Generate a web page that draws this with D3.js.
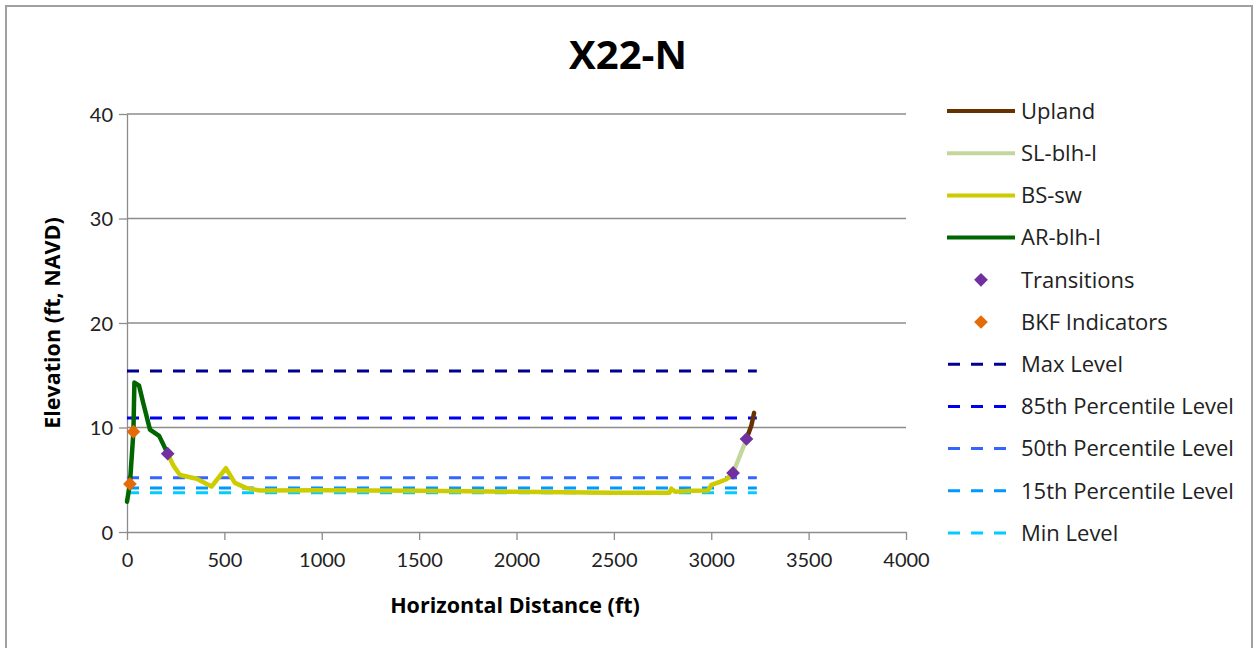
<!DOCTYPE html>
<html><head><meta charset="utf-8">
<script src="https://cdn.jsdelivr.net/npm/d3@7"></script>
<style>body{margin:0;background:#fff}svg{display:block}text{font-family:"Open Sans",sans-serif}</style>
</head><body><svg id="c" width="1254" height="648"></svg>
<script>
// Data
const arBlhL = [[0,2.9],[15,4.6],[33,9.6],[38,14.3],[62,14.0],[84,12.3],[118,9.8],[165,9.2],[209,7.5]];
const bsSw = [[209,7.5],[240,6.3],[272,5.45],[358,5.1],[434,4.35],[508,6.1],[554,4.7],[614,4.2],[683,3.97],[1000,4.0],[1500,3.95],[1750,3.9],[2000,3.85],[2500,3.75],[2785,3.75],[2795,4.15],[2815,3.85],[2900,3.95],[2983,3.97],[3001,4.5],[3044,4.8],[3079,5.05],[3112,5.65]];
const slBlhL = [[3112,5.65],[3181,8.9]];
const upland = [[3181,8.9],[3206,10.2],[3220,11.4]];
const transitions = [[209,7.5],[3112,5.65],[3181,8.9]];
const bkfIndicators = [[15,4.6],[33,9.6]];
const levelNames = ["Max Level","85th Percentile Level","50th Percentile Level","15th Percentile Level","Min Level"];
const levelValues = [15.4,10.9,5.2,4.2,3.75];
const levelRange = [0,3234];
const xTicks = [0,500,1000,1500,2000,2500,3000,3500,4000];
const yTicks = [0,10,20,30,40];

const svg = d3.select("#c");
// Outer frame
svg.append("rect").attr("x",6).attr("y",6).attr("width",1246).attr("height",700)
  .attr("fill","#fff").attr("stroke","#a0a0a0").attr("stroke-width",2);

const x = d3.scaleLinear().domain([0,4000]).range([127,906]);
const y = d3.scaleLinear().domain([0,40]).range([532,114]);

// gridlines
svg.append("g").selectAll("line").data(yTicks.filter(d=>d>0)).join("line")
  .attr("x1",x(0)).attr("x2",x(4000)).attr("y1",d=>y(d)).attr("y2",d=>y(d))
  .attr("stroke","#8c8c8c").attr("stroke-width",1.3);

// axes
const xa = svg.append("g").attr("transform",`translate(0,${y(0)})`)
  .call(d3.axisBottom(x).tickValues(xTicks).tickSize(8).tickSizeOuter(0).tickFormat(d3.format("d")));
const ya = svg.append("g").attr("transform",`translate(${x(0)},0)`)
  .call(d3.axisLeft(y).tickValues(yTicks).tickSize(8).tickSizeOuter(0));
[xa,ya].forEach(a=>{
  a.select(".domain").attr("stroke","#8c8c8c").attr("stroke-width",1.3);
  a.selectAll(".tick line").attr("stroke","#8c8c8c").attr("stroke-width",1.3);
  a.selectAll("text").attr("fill","#222").style("font-size","20px").style("font-family","Lato,sans-serif");
});
xa.selectAll("text").attr("dy","1.2em");
ya.selectAll("text").attr("dx","-0.15em").attr("dy","0.35em");

// level lines
const levelColors = ["#000090","#0000f0","#3366ff","#0099ff","#00ccff"];
levelValues.forEach((v,i)=>{
  svg.append("line").attr("x1",x(levelRange[0])).attr("x2",x(levelRange[1]))
    .attr("y1",y(v)).attr("y2",y(v)).attr("stroke",levelColors[i]).attr("stroke-width",3)
    .attr("stroke-dasharray","12,11");
});

const line = d3.line().x(d=>x(d[0])).y(d=>y(d[1]));
const series = [
  {name:"Upland",data:upland,color:"#663300"},
  {name:"SL-blh-l",data:slBlhL,color:"#c4d79b"},
  {name:"BS-sw",data:bsSw,color:"#cccc00"},
  {name:"AR-blh-l",data:arBlhL,color:"#006600"}
];
[series[2],series[1],series[0],series[3]].forEach(s=>{
  svg.append("path").datum(s.data).attr("d",line).attr("fill","none")
    .attr("stroke",s.color).attr("stroke-width",4.5).attr("stroke-linejoin","round").attr("stroke-linecap","round");
});

const diamond = d3.symbol().type(d3.symbolDiamond2).size(120);
svg.append("g").selectAll("path").data(bkfIndicators).join("path")
  .attr("d",diamond).attr("transform",d=>`translate(${x(d[0])},${y(d[1])})`).attr("fill","#e36c09");
svg.append("g").selectAll("path").data(transitions).join("path")
  .attr("d",diamond).attr("transform",d=>`translate(${x(d[0])},${y(d[1])})`).attr("fill","#7030a0");

// Titles
svg.append("text").attr("x",628).attr("y",69).attr("text-anchor","middle")
  .style("font-size","40px").style("font-weight","bold").attr("fill","#000").text("X22-N");
svg.append("text").attr("x",515).attr("y",613).attr("text-anchor","middle")
  .style("font-size","21.5px").style("font-weight","bold").attr("fill","#000").text("Horizontal Distance (ft)");
svg.append("text").attr("transform","translate(60,323) rotate(-90)").attr("text-anchor","middle")
  .style("font-size","21.5px").style("font-weight","bold").attr("fill","#000").text("Elevation (ft, NAVD)");

// Legend
const leg = svg.append("g");
const rowY = i => 111 + i*42.2;
series.forEach((s,i)=>{
  leg.append("line").attr("x1",947).attr("x2",1015).attr("y1",rowY(i)).attr("y2",rowY(i))
    .attr("stroke",s.color).attr("stroke-width",4);
  leg.append("text").attr("x",1021).attr("y",rowY(i)).attr("dy","0.35em").style("font-size","22px").attr("fill","#222").text(s.name);
});
[["Transitions","#7030a0"],["BKF Indicators","#e36c09"]].forEach((m,j)=>{
  const i = 4+j;
  leg.append("path").attr("d",diamond).attr("transform",`translate(981,${rowY(i)})`).attr("fill",m[1]);
  leg.append("text").attr("x",1021).attr("y",rowY(i)).attr("dy","0.35em").style("font-size","22px").attr("fill","#222").text(m[0]);
});
levelNames.forEach((n,j)=>{
  const i = 6+j;
  leg.append("line").attr("x1",948).attr("x2",1010).attr("y1",rowY(i)).attr("y2",rowY(i))
    .attr("stroke",levelColors[j]).attr("stroke-width",3).attr("stroke-dasharray","12,11");
  leg.append("text").attr("x",1021).attr("y",rowY(i)).attr("dy","0.35em").style("font-size","22px").attr("fill","#222").text(n);
});
</script></body></html>
